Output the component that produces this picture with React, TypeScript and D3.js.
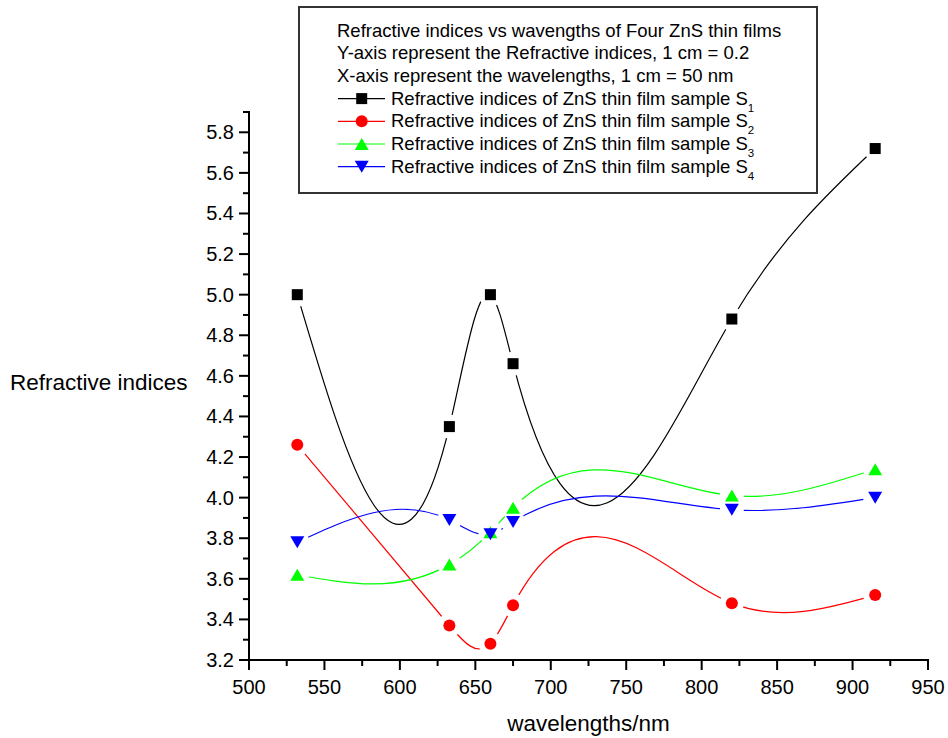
import React from "react";
import * as d3 from "d3";

const wavelengths = [532, 632.8, 660, 675, 820, 915];
const sample1 = [5.0, 4.35, 5.0, 4.66, 4.88, 5.72];
const sample2 = [4.26, 3.37, 3.28, 3.47, 3.48, 3.52];
const sample3 = [3.62, 3.67, 3.83, 3.95, 4.01, 4.14];
const sample4 = [3.78, 3.89, 3.82, 3.88, 3.94, 4.0];

const seriesNames = [
  "Refractive indices of ZnS thin film sample S",
  "Refractive indices of ZnS thin film sample S",
  "Refractive indices of ZnS thin film sample S",
  "Refractive indices of ZnS thin film sample S",
];
const seriesSubs = ["1", "2", "3", "4"];
const seriesColors = ["#000000", "#ff0000", "#00ff00", "#0000ff"];
const seriesSymbols = ["square", "circle", "up", "down"];
const legendHeader = [
  "Refractive indices vs wavengths of Four ZnS thin films",
  "Y-axis represent the Refractive indices, 1 cm = 0.2",
  "X-axis represent the wavelengths, 1 cm = 50 nm",
];

const xMajorTicks = d3.range(500, 951, 50);
const xMinorTicks = d3.range(525, 950, 50);
const yMajorTicks = d3.range(0, 14).map((i) => +(3.2 + i * 0.2).toFixed(1));
const yMinorTicks = d3.range(0, 14).map((i) => +(3.3 + i * 0.2).toFixed(1));

const FONT = "'Liberation Sans', Arial, Helvetica, sans-serif";

// natural cubic spline y(x) as a d3 curve
function curveSplineX(context: any) {
  let pts: [number, number][] = [];
  return {
    areaStart() {},
    areaEnd() {},
    lineStart() {
      pts = [];
    },
    point(x: number, y: number) {
      pts.push([+x, +y]);
    },
    lineEnd() {
      const n = pts.length;
      if (n === 0) return;
      context.moveTo(pts[0][0], pts[0][1]);
      if (n === 1) return;
      if (n === 2) {
        context.lineTo(pts[1][0], pts[1][1]);
        return;
      }
      const h: number[] = [];
      for (let i = 0; i < n - 1; i++) h.push(pts[i + 1][0] - pts[i][0]);
      const M = new Array(n).fill(0);
      const a: number[] = [], b: number[] = [], c: number[] = [], r: number[] = [];
      for (let i = 1; i < n - 1; i++) {
        a.push(h[i - 1]);
        b.push(2 * (h[i - 1] + h[i]));
        c.push(h[i]);
        r.push(
          6 *
            ((pts[i + 1][1] - pts[i][1]) / h[i] -
              (pts[i][1] - pts[i - 1][1]) / h[i - 1])
        );
      }
      const m = b.length;
      for (let i = 1; i < m; i++) {
        const w = a[i] / b[i - 1];
        b[i] -= w * c[i - 1];
        r[i] -= w * r[i - 1];
      }
      const sol = new Array(m).fill(0);
      sol[m - 1] = r[m - 1] / b[m - 1];
      for (let i = m - 2; i >= 0; i--) sol[i] = (r[i] - c[i] * sol[i + 1]) / b[i];
      for (let i = 0; i < m; i++) M[i + 1] = sol[i];
      for (let i = 0; i < n - 1; i++) {
        const [x0, y0] = pts[i];
        const [x1, y1] = pts[i + 1];
        const hh = h[i];
        const d = (y1 - y0) / hh;
        const m0 = d - (hh * (2 * M[i] + M[i + 1])) / 6;
        const m1 = d + (hh * (M[i] + 2 * M[i + 1])) / 6;
        context.bezierCurveTo(
          x0 + hh / 3,
          y0 + (m0 * hh) / 3,
          x1 - hh / 3,
          y1 - (m1 * hh) / 3,
          x1,
          y1
        );
      }
    },
  };
}

function Marker({ kind, x, y, color }: { kind: string; x: number; y: number; color: string }) {
  if (kind === "square")
    return <rect x={x - 5.5} y={y - 5.5} width={11} height={11} fill={color} />;
  if (kind === "circle") return <circle cx={x} cy={y} r={6} fill={color} />;
  if (kind === "up")
    return <path d={`M${x},${y - 6}L${x + 7},${y + 6}L${x - 7},${y + 6}Z`} fill={color} />;
  return <path d={`M${x},${y + 6}L${x + 7},${y - 6}L${x - 7},${y - 6}Z`} fill={color} />;
}

export default function App() {
  const x = d3.scaleLinear().domain([500, 950]).range([249, 928]);
  const y = d3.scaleLinear().domain([3.2, 5.9]).range([660, 112]);
  const series = [sample1, sample2, sample3, sample4];
  const line = d3
    .line<[number, number]>()
    .x((d) => x(d[0]))
    .y((d) => y(d[1]))
    .curve(curveSplineX as any);

  const axisY0 = y(3.2);
  const axisX0 = x(500);

  return (
    <svg
      width={948}
      height={738}
      style={{ position: "absolute", left: 0, top: 0, background: "#fff" }}
      fontFamily={FONT}
    >
      <rect width={948} height={738} fill="#fff" />
      <defs>
        {series.map((vals, si) => (
          <mask id={`gap${si}`} key={si} maskUnits="userSpaceOnUse" x={0} y={0} width={948} height={738}>
            <rect width={948} height={738} fill="#fff" />
            {vals.map((v, i) => (
              <circle key={i} cx={x(wavelengths[i])} cy={y(v)} r={12} fill="#000" />
            ))}
          </mask>
        ))}
      </defs>

      {/* series lines */}
      {series.map((vals, si) => (
        <path
          key={si}
          d={line(vals.map((v, i) => [wavelengths[i], v] as [number, number])) || ""}
          fill="none"
          stroke={seriesColors[si]}
          strokeWidth={1.2}
          mask={`url(#gap${si})`}
        />
      ))}
      {/* markers */}
      {series.map((vals, si) =>
        vals.map((v, i) => (
          <Marker
            key={`${si}-${i}`}
            kind={seriesSymbols[si]}
            x={x(wavelengths[i])}
            y={y(v)}
            color={seriesColors[si]}
          />
        ))
      )}

      {/* x axis */}
      <line x1={axisX0 - 1} x2={x(950) + 1} y1={axisY0} y2={axisY0} stroke="#000" strokeWidth={2} />
      {xMajorTicks.map((t) => (
        <g key={t}>
          <line x1={x(t)} x2={x(t)} y1={axisY0} y2={axisY0 + 10} stroke="#000" strokeWidth={2} />
          <text x={x(t)} y={693.5} textAnchor="middle" fontSize={20} fill="#000">
            {t}
          </text>
        </g>
      ))}
      {xMinorTicks.map((t) => (
        <line key={t} x1={x(t)} x2={x(t)} y1={axisY0} y2={axisY0 + 6} stroke="#000" strokeWidth={2} />
      ))}

      {/* y axis */}
      <line x1={axisX0} x2={axisX0} y1={axisY0 + 1} y2={y(5.9) - 1} stroke="#000" strokeWidth={2} />
      {yMajorTicks.map((t) => (
        <g key={t}>
          <line x1={axisX0 - 10} x2={axisX0} y1={y(t)} y2={y(t)} stroke="#000" strokeWidth={2} />
          <text x={234} y={y(t) + 7} textAnchor="end" fontSize={20} fill="#000">
            {t.toFixed(1)}
          </text>
        </g>
      ))}
      {yMinorTicks.map((t) => (
        <line key={t} x1={axisX0 - 6} x2={axisX0} y1={y(t)} y2={y(t)} stroke="#000" strokeWidth={2} />
      ))}

      {/* axis titles */}
      <text x={10} y={390} fontSize={22.5} fill="#000">
        Refractive indices
      </text>
      <text x={(x(500) + x(950)) / 2} y={731} textAnchor="middle" fontSize={22.5} fill="#000">
        wavelengths/nm
      </text>

      {/* legend */}
      <rect x={299} y={7} width={518} height={186} fill="#fff" stroke="#333" strokeWidth={2} />
      {legendHeader.map((t, i) => (
        <text key={i} x={337} y={36.5 + i * 22.7} fontSize={18.5} fill="#000">
          {t}
        </text>
      ))}
      {seriesNames.map((name, i) => {
        const by = 104.6 + i * 22.7;
        const ly = by - 6;
        return (
          <g key={i}>
            <line x1={338} x2={385} y1={ly} y2={ly} stroke={seriesColors[i]} strokeWidth={1.2} />
            <Marker kind={seriesSymbols[i]} x={361.7} y={ly} color={seriesColors[i]} />
            <text x={391} y={by} fontSize={18.5} fill="#000">
              {name}
              <tspan fontSize={11.5} dy={7}>
                {seriesSubs[i]}
              </tspan>
            </text>
          </g>
        );
      })}
    </svg>
  );
}
